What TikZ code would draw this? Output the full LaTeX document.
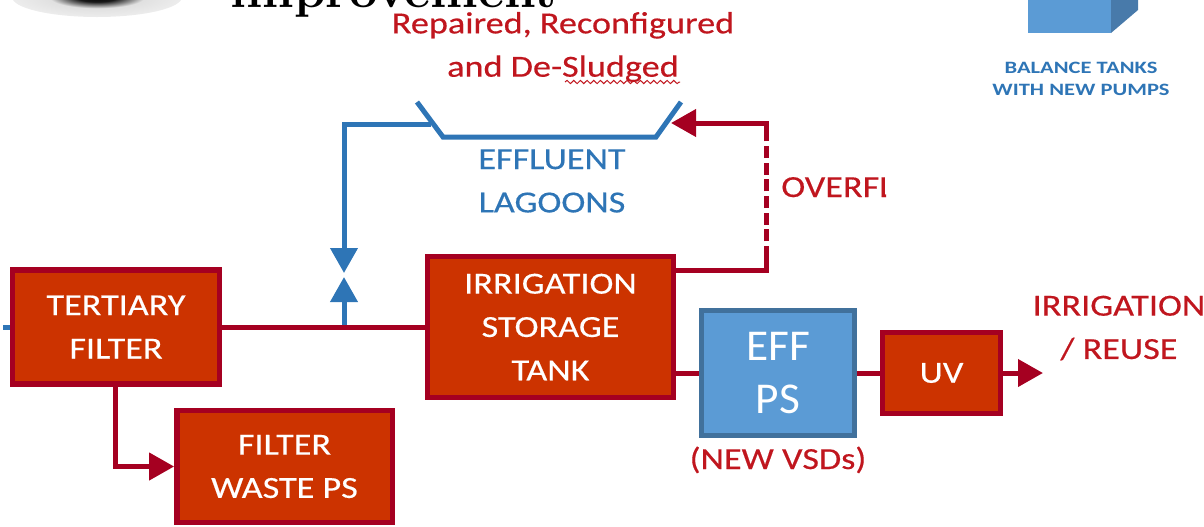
\documentclass[tikz,border=0pt]{standalone}
\usepackage{fontspec}
\setmainfont{Carlito}[FakeStretch=1.18,FakeBold=0.4]
\newfontfamily\headfont{Latin Modern Roman}
\newfontfamily\bigfont{Carlito}[FakeStretch=1.03]
\newfontfamily\smallfont{Carlito}[FakeStretch=1.3]
\usetikzlibrary{arrows.meta,decorations.pathmorphing}
\definecolor{RedFill}{RGB}{204,51,0}
\definecolor{RedLine}{RGB}{165,0,33}
\definecolor{RedText}{RGB}{192,22,30}
\definecolor{BlueFill}{RGB}{91,155,213}
\definecolor{BlueEdge}{RGB}{65,113,156}
\definecolor{BlueLine}{RGB}{46,117,182}
\definecolor{BlueSide}{RGB}{72,122,170}
\pgfdeclareradialshading{SpotShade}{\pgfpoint{0bp}{0bp}}{color(0bp)=(black);color(6bp)=(black!90);color(14bp)=(black!12);color(30bp)=(black!5);color(50bp)=(white)}
\tikzset{
  RedBox/.style={draw=RedLine,fill=RedFill,line width=4pt,text=white,align=center,inner sep=0pt,font=\fontsize{23}{32.5}\selectfont},
  BlueBox/.style={draw=BlueEdge,fill=BlueFill,line width=3.5pt,text=white,align=center,inner sep=0pt,font=\bigfont\fontsize{33}{40}\selectfont},
  RedLbl/.style={text=RedText,align=center,inner sep=0pt,font=\fontsize{23}{32.5}\selectfont},
  BlueLbl/.style={text=BlueLine,align=center,inner sep=0pt,font=\fontsize{23}{32.5}\selectfont},
  RedPipe/.style={draw=RedLine,line width=3.75pt},
  BluePipe/.style={draw=BlueLine,line width=3.75pt},
  RedHead/.style={-{Triangle[length=18.75pt,width=20pt]}},
  BlueHead/.style={-{Triangle[length=18.75pt,width=20pt]}}
}
\begin{document}
\begin{tikzpicture}[x=.75pt,y=-.75pt]
\useasboundingbox (0,0) rectangle (1204,526);
\clip (0,0) rectangle (1204,526);

\shade[shading=SpotShade] (97,-3) ellipse [x radius=85,y radius=20];
\node[anchor=base,inner sep=0pt,font=\headfont\bfseries\fontsize{38}{38}\selectfont] (title) at (393.5,7) {improvement};

\fill[BlueFill] (1028,-5) rectangle (1111,33);
\fill[BlueSide] (1111,33) -- (1138,10) -- (1138,-5) -- (1111,-5) -- cycle;
\node[text=BlueLine,align=center,inner sep=0pt,font=\smallfont\fontsize{13}{16}\selectfont\bfseries] (balance) at (1081,79) {BALANCE TANKS\\WITH NEW PUMPS};

\node[RedLbl] (repaired) at (563,47) {Repaired, Reconfigured\\and De-Sludged};
\draw[RedText,line width=.75pt,decorate,decoration={snake,amplitude=1.2,segment length=5}] (565,82) -- (680,82);
\node[BlueLbl] (lagoons) at (552,181) {EFFLUENT\\LAGOONS};
\begin{scope}
\clip (770,160) rectangle (886,210);
\node[RedLbl,anchor=base west] (overflow) at (781,197) {OVERFLOW};
\end{scope}
\node[RedLbl] (reuse) at (1119,328) {IRRIGATION\\/ REUSE};
\node[RedLbl,anchor=base] (vsds) at (778,469) {(NEW VSDs)};

\node[RedBox,minimum width=155.6pt,minimum height=85.5pt] (tertiary) at (116,327) {TERTIARY\\FILTER};
\node[RedBox,minimum width=161.5pt,minimum height=84pt] (waste) at (284.5,466.5) {FILTER\\WASTE PS};
\node[RedBox,minimum width=184.5pt,minimum height=105.75pt] (storage) at (550.5,327) {IRRIGATION\\STORAGE\\TANK};
\node[BlueBox,minimum width=114.75pt,minimum height=93.75pt] (effps) at (778,373) {EFF\\PS};
\node[RedBox,minimum width=88.5pt,minimum height=60.75pt] (uv) at (941.5,373) {UV};

\coordinate (feed) at (3,327);
\coordinate (lagoonA) at (417,102);
\coordinate (lagoonB) at (443,137);
\coordinate (lagoonC) at (656,137);
\coordinate (lagoonD) at (681,102);
\coordinate (lagoonIn) at (431,124);
\coordinate (bendTop) at (344,124);
\coordinate (teeTip) at (344,273);
\coordinate (tee) at (344,327);
\coordinate (teeUp) at (344,277);
\coordinate (overTip) at (671,123);
\coordinate (overTop) at (766,123);
\coordinate (overA) at (766,135);
\coordinate (overB) at (766,258);
\coordinate (overLow) at (766,270);
\coordinate (outTip) at (1043,373);

\draw[BluePipe] (feed) -- (tertiary.west);
\draw[BluePipe] (lagoonA) -- (lagoonB) -- (lagoonC) -- (lagoonD);
\draw[BluePipe,BlueHead] (lagoonIn) -- (bendTop) -- (teeTip);
\draw[BluePipe,BlueHead] (tee) -- (teeUp);

\draw[RedPipe] (tertiary) -- (storage);
\draw[RedPipe,RedHead] ([xshift=-.75pt]tertiary.south) |- (waste.west);
\draw[RedPipe] (storage.east |- effps) -- (effps.west);
\draw[RedPipe] (effps.east) -- (uv.west);
\draw[RedPipe,RedHead] (uv.east) -- (outTip);
\draw[RedPipe] (storage.east |- overLow) -- (overLow) -- (overB);
\draw[RedPipe,dash pattern=on 9pt off 3.5pt] (overB) -- (overA);
\draw[RedPipe,RedHead] (overA) -- (overTop) -- (overTip);
\end{tikzpicture}
\end{document}
